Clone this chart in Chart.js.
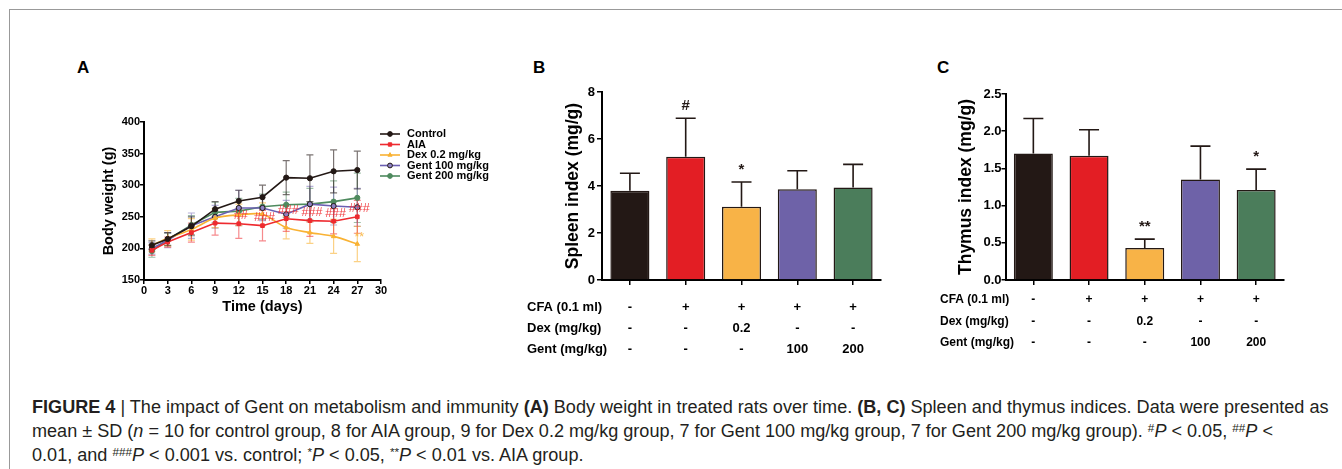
<!DOCTYPE html>
<html>
<head>
<meta charset="utf-8">
<script src="https://cdn.jsdelivr.net/npm/chart.js@4.4.1/dist/chart.umd.min.js"></script>
<style>
  html, body { margin: 0; padding: 0; background: #fff; }
  body { width: 1342px; height: 469px; position: relative; overflow: hidden;
         font-family: "Liberation Sans", Arial, sans-serif; }
  .frame { position: absolute; left: 9px; top: 9px; width: 1400px; height: 520px; border: 1px solid #999; }
  .panel { position: absolute; }
  .tag { position: absolute; font-weight: bold; font-size: 17px; line-height: 17px; color: #000; }
  .cap { position: absolute; left: 32px; font-size: 15px; line-height: 20px; color: #231f20; white-space: nowrap; }
  .cap sup { font-size: 0.65em; line-height: 0; vertical-align: 0.4em; }
</style>
</head>
<body>
<div class="frame"></div>

<div class="tag" style="left:77px; top:59px">A</div>
<div class="tag" style="left:533px; top:59px">B</div>
<div class="tag" style="left:937px; top:59px">C</div>

<canvas id="chartA" class="panel" width="460" height="230" style="left:60px; top:100px"></canvas>
<canvas id="chartB" class="panel" width="370" height="290" style="left:520px; top:70px"></canvas>
<canvas id="chartC" class="panel" width="370" height="290" style="left:930px; top:70px"></canvas>

<div class="cap" style="top:397px"><b>FIGURE 4</b> | The impact of Gent on metabolism and immunity <b>(A)</b> Body weight in treated rats over time. <b>(B, C)</b> Spleen and thymus indices. Data were presented as</div>
<div class="cap" style="top:421px">mean ± SD (<i>n</i> = 10 for control group, 8 for AIA group, 9 for Dex 0.2 mg/kg group, 7 for Gent 100 mg/kg group, 7 for Gent 200 mg/kg group). <sup>#</sup><i>P</i> &lt; 0.05, <sup>##</sup><i>P</i> &lt;</div>
<div class="cap" style="top:445px">0.01, and <sup>###</sup><i>P</i> &lt; 0.001 vs. control; <sup>*</sup><i>P</i> &lt; 0.05, <sup>**</sup><i>P</i> &lt; 0.01 vs. AIA group.</div>

<script>
// ---- panel A: body weight over time ----
const days = [1, 3, 6, 9, 12, 15, 18, 21, 24, 27];
const controlMean = [205, 215, 235, 262, 275, 281, 312, 311, 322, 324];
const controlSd   = [7, 10, 15, 12, 17, 19, 27, 37, 34, 30];
const aiaMean     = [197, 210, 225, 240, 239, 236, 247, 244, 243, 250];
const aiaSd       = [8, 8, 15, 19, 23, 24, 20, 25, 20, 26];
const dexMean     = [205, 216, 230, 248, 253, 254, 233, 225, 219, 207];
const dexSd       = [10, 12, 17, 15, 17, 18, 18, 17, 27, 28];
const gent100Mean = [200, 213, 236, 250, 264, 264, 254, 270, 267, 265];
const gent100Sd   = [9, 12, 20, 18, 28, 20, 22, 28, 30, 30];
const gent200Mean = [196, 214, 237, 257, 259, 266, 269, 270, 274, 280];
const gent200Sd   = [10, 10, 15, 16, 20, 20, 20, 25, 33, 39];
const aiaMarks    = ['', '', '', '', '##', '###', '###', '###', '###', '###'];
const dexMarks    = ['', '', '', '', '', '', '', '', '', '**'];
const weightTicks = [0, 3, 6, 9, 12, 15, 18, 21, 24, 27, 30];

// ---- panels B and C: organ indices ----
const groups      = ['Control', 'AIA', 'Dex 0.2 mg/kg', 'Gent 100 mg/kg', 'Gent 200 mg/kg'];
const spleenMean  = [3.80, 5.25, 3.12, 3.86, 3.94];
const spleenSd    = [0.74, 1.63, 1.05, 0.79, 0.98];
const spleenMarks = ['', '#', '*', '', ''];
const thymusMean  = [1.70, 1.67, 0.43, 1.35, 1.21];
const thymusSd    = [0.47, 0.35, 0.12, 0.45, 0.28];
const thymusMarks = ['', '', '**', '', '*'];
const rowNames    = ['CFA (0.1 ml)', 'Dex (mg/kg)', 'Gent (mg/kg)'];
const cfaRow      = ['-', '+', '+', '+', '+'];
const dexRow      = ['-', '-', '0.2', '-', '-'];
const gentRow     = ['-', '-', '-', '100', '200'];

const ink = '#231815';
const barColors = [ink, '#e31e24', '#f8b347', '#6e62a8', '#4b7d5b'];

Chart.defaults.font.family = '"Liberation Sans", Arial, sans-serif';
Chart.defaults.color = '#000';

function axisStyle(tickLen) {
  return {
    border: { display: true, color: '#000', width: 2 },
    grid: { display: true, drawOnChartArea: false, drawTicks: true, tickLength: tickLen,
            color: '#000', lineWidth: 1.5 }
  };
}

function series(label, mean, sd, color, errColor, style, extra) {
  return Object.assign({
    label: label,
    data: days.map((d, i) => ({ x: d, y: mean[i] })),
    sd: sd,
    errColor: errColor,
    borderColor: color,
    backgroundColor: color,
    pointBackgroundColor: color,
    pointBorderColor: color,
    borderWidth: 1.6,
    pointStyle: style,
    pointRadius: 2.6,
    pointBorderWidth: 1,
    tension: 0
  }, extra || {});
}

const errorBarsA = {
  id: 'errorBarsA',
  beforeDatasetsDraw(chart) {
    const { ctx, scales: { x, y } } = chart;
    chart.data.datasets.slice().reverse().forEach(ds => {
      ctx.save();
      ctx.strokeStyle = ds.errColor;
      ctx.lineWidth = 1.2;
      ds.data.forEach((p, i) => {
        const px = x.getPixelForValue(p.x);
        const hi = y.getPixelForValue(p.y + ds.sd[i]);
        const lo = y.getPixelForValue(p.y - ds.sd[i]);
        ctx.beginPath();
        ctx.moveTo(px, hi); ctx.lineTo(px, lo);
        ctx.moveTo(px - 3.5, hi); ctx.lineTo(px + 3.5, hi);
        ctx.moveTo(px - 3.5, lo); ctx.lineTo(px + 3.5, lo);
        ctx.stroke();
      });
      ctx.restore();
    });
  }
};

const marksA = {
  id: 'marksA',
  afterDatasetsDraw(chart) {
    const { ctx, scales: { x, y } } = chart;
    ctx.save();
    ctx.font = '12.5px "Liberation Sans", Arial, sans-serif';
    ctx.textAlign = 'center';
    ctx.textBaseline = 'middle';
    ctx.fillStyle = 'rgba(238, 42, 47, 0.9)';
    aiaMarks.forEach((m, i) => {
      if (m) ctx.fillText(m, x.getPixelForValue(days[i]) + 2, y.getPixelForValue(aiaMean[i]) - 8);
    });
    ctx.fillStyle = 'rgba(249, 178, 51, 0.85)';
    dexMarks.forEach((m, i) => {
      if (m) ctx.fillText(m, x.getPixelForValue(days[i]) + 2, y.getPixelForValue(dexMean[i]) - 6);
    });
    ctx.restore();
  }
};

const legendA = {
  id: 'legendA',
  afterDraw(chart) {
    const ctx = chart.ctx;
    const x0 = 320, y0 = 34, gap = 10.5;
    ctx.save();
    chart.data.datasets.forEach((ds, i) => {
      const yy = y0 + i * gap;
      ctx.strokeStyle = ds.borderColor;
      ctx.lineWidth = 1.6;
      ctx.beginPath();
      ctx.moveTo(x0, yy); ctx.lineTo(x0 + 20, yy);
      ctx.stroke();
      ctx.fillStyle = ds.pointBackgroundColor;
      ctx.strokeStyle = ds.pointBorderColor;
      ctx.lineWidth = 1;
      Chart.helpers.drawPoint(ctx, { pointStyle: ds.pointStyle, radius: 2.4, rotation: 0, borderWidth: 1 }, x0 + 10, yy);
      ctx.fillStyle = '#000';
      ctx.font = 'bold 11px "Liberation Sans", Arial, sans-serif';
      ctx.textAlign = 'left';
      ctx.textBaseline = 'middle';
      ctx.fillText(ds.label, x0 + 27, yy);
    });
    ctx.restore();
  }
};

new Chart(document.getElementById('chartA'), {
  type: 'line',
  data: {
    datasets: [
      series('Control', controlMean, controlSd, ink, 'rgba(35,24,21,0.6)', 'circle'),
      series('AIA', aiaMean, aiaSd, '#ee2a2f', 'rgba(238,42,47,0.55)', 'rect'),
      series('Dex 0.2 mg/kg', dexMean, dexSd, '#f9b233', 'rgba(249,178,51,0.6)', 'triangle', { tension: 0.3 }),
      series('Gent 100 mg/kg', gent100Mean, gent100Sd, '#6b5fb2', 'rgba(107,95,178,0.5)', 'circle',
             { pointBorderColor: ink, pointBackgroundColor: '#8d82c4' }),
      series('Gent 200 mg/kg', gent200Mean, gent200Sd, '#4e8a5e', 'rgba(78,138,94,0.55)', 'circle')
    ]
  },
  options: {
    responsive: false,
    animation: false,
    layout: { padding: { top: 22, right: 139, bottom: 0, left: 0 } },
    plugins: { legend: { display: false }, tooltip: { enabled: false } },
    scales: {
      x: Object.assign(axisStyle(4), {
        type: 'linear', min: 0, max: 30,
        afterBuildTicks: s => { s.ticks = weightTicks.map(v => ({ value: v })); },
        ticks: { font: { size: 11, weight: 'bold' }, padding: 0, maxRotation: 0 },
        title: { display: true, text: 'Time (days)', font: { size: 14.5, weight: 'bold' },
                 padding: { top: 0, bottom: 14 } },
        afterFit: s => { s.height = 50; }
      }),
      y: Object.assign(axisStyle(4), {
        min: 150, max: 400,
        ticks: { stepSize: 50, font: { size: 11, weight: 'bold' }, padding: 0 },
        title: { display: true, text: 'Body weight (g)', font: { size: 14.5, weight: 'bold' },
                 padding: { top: 40, bottom: 0 } },
        afterFit: s => { s.width = 84; }
      })
    }
  },
  plugins: [errorBarsA, marksA, legendA]
});

// error bars, significance marks and treatment table headers for the bar panels
const barExtras = {
  id: 'barExtras',
  afterDatasetsDraw(chart, args, opts) {
    const ctx = chart.ctx;
    const ds = chart.data.datasets[0];
    const meta = chart.getDatasetMeta(0);
    const y = chart.scales.y;
    ctx.save();
    ctx.strokeStyle = ink;
    ctx.lineWidth = 1.6;
    ctx.fillStyle = ink;
    ctx.font = 'bold 15px "Liberation Sans", Arial, sans-serif';
    ctx.textAlign = 'center';
    ctx.textBaseline = 'middle';
    meta.data.forEach((bar, i) => {
      const top = y.getPixelForValue(ds.data[i] + ds.sd[i]);
      const base = y.getPixelForValue(ds.data[i]);
      ctx.beginPath();
      ctx.moveTo(bar.x, base); ctx.lineTo(bar.x, top);
      ctx.moveTo(bar.x - 10, top); ctx.lineTo(bar.x + 10, top);
      ctx.stroke();
      if (ds.marks[i]) ctx.fillText(ds.marks[i], bar.x, top - 12);
    });
    ctx.fillStyle = '#000';
    ctx.font = 'bold ' + opts.rowFont + 'px "Liberation Sans", Arial, sans-serif';
    ctx.textAlign = 'left';
    rowNames.forEach((t, r) => ctx.fillText(t, opts.rowX, opts.rowY + r * opts.rowGap));
    ctx.restore();
  }
};

function barChart(id, mean, sd, marks, yMax, yStep, yTitle, dims) {
  return new Chart(document.getElementById(id), {
    type: 'bar',
    data: {
      labels: groups,
      datasets: [{
        data: mean, sd: sd, marks: marks,
        backgroundColor: barColors,
        borderColor: ink,
        borderWidth: 1.5,
        barPercentage: 0.7,
        categoryPercentage: 1
      }]
    },
    options: {
      responsive: false,
      animation: false,
      layout: { padding: { top: dims.padTop, right: dims.padRight, bottom: 0, left: 0 } },
      plugins: {
        legend: { display: false },
        tooltip: { enabled: false },
        barExtras: { rowX: dims.rowX, rowY: dims.rowY, rowGap: dims.rowGap, rowFont: dims.rowFont }
      },
      scales: {
        x: Object.assign(axisStyle(5), {
          ticks: {
            callback: (v, i) => [cfaRow[i], dexRow[i], gentRow[i]],
            font: { size: dims.rowFont, weight: 'bold', lineHeight: dims.rowGap + 'px' },
            padding: dims.tickPad, maxRotation: 0, autoSkip: false
          },
          afterFit: s => { s.height = 80; }
        }),
        y: Object.assign(axisStyle(dims.yTick), {
          min: 0, max: yMax,
          ticks: { stepSize: yStep, font: { size: 13, weight: 'bold' }, padding: dims.yPad,
                   callback: v => yStep < 1 ? v.toFixed(1) : v },
          title: { display: true, text: yTitle, font: { size: 17.5, weight: 'bold' },
                   padding: { top: dims.titlePad, bottom: 0 } },
          afterFit: s => { s.width = dims.yWidth; }
        })
      }
    },
    plugins: [barExtras]
  });
}

const chartB = barChart('chartB', spleenMean, spleenSd, spleenMarks, 8, 2, 'Spleen index (mg/g)', {
  padTop: 22, padRight: 9, yWidth: 82, yTick: 5, yPad: 2, titlePad: 43,
  tickPad: 11.5, rowGap: 21, rowFont: 13, rowX: 7, rowY: 237
});
chartB.options.scales.x.grid.offset = false;
chartB.update();

const chartC = barChart('chartC', thymusMean, thymusSd, thymusMarks, 2.5, 0.5, 'Thymus index (mg/g)', {
  padTop: 24, padRight: 16, yWidth: 75.5, yTick: 4, yPad: 0, titlePad: 26,
  tickPad: 4, rowGap: 21.5, rowFont: 12, rowX: 10, rowY: 230
});
chartC.options.scales.x.grid.offset = false;
chartC.update();

// scale the caption font so the first line spans the same width as in the figure
const capLines = document.querySelectorAll('.cap');
const natural = capLines[0].getBoundingClientRect().width;
const capSize = 15 * 1298 / natural;
capLines.forEach(el => { el.style.fontSize = capSize + 'px'; });
</script>
</body>
</html>
